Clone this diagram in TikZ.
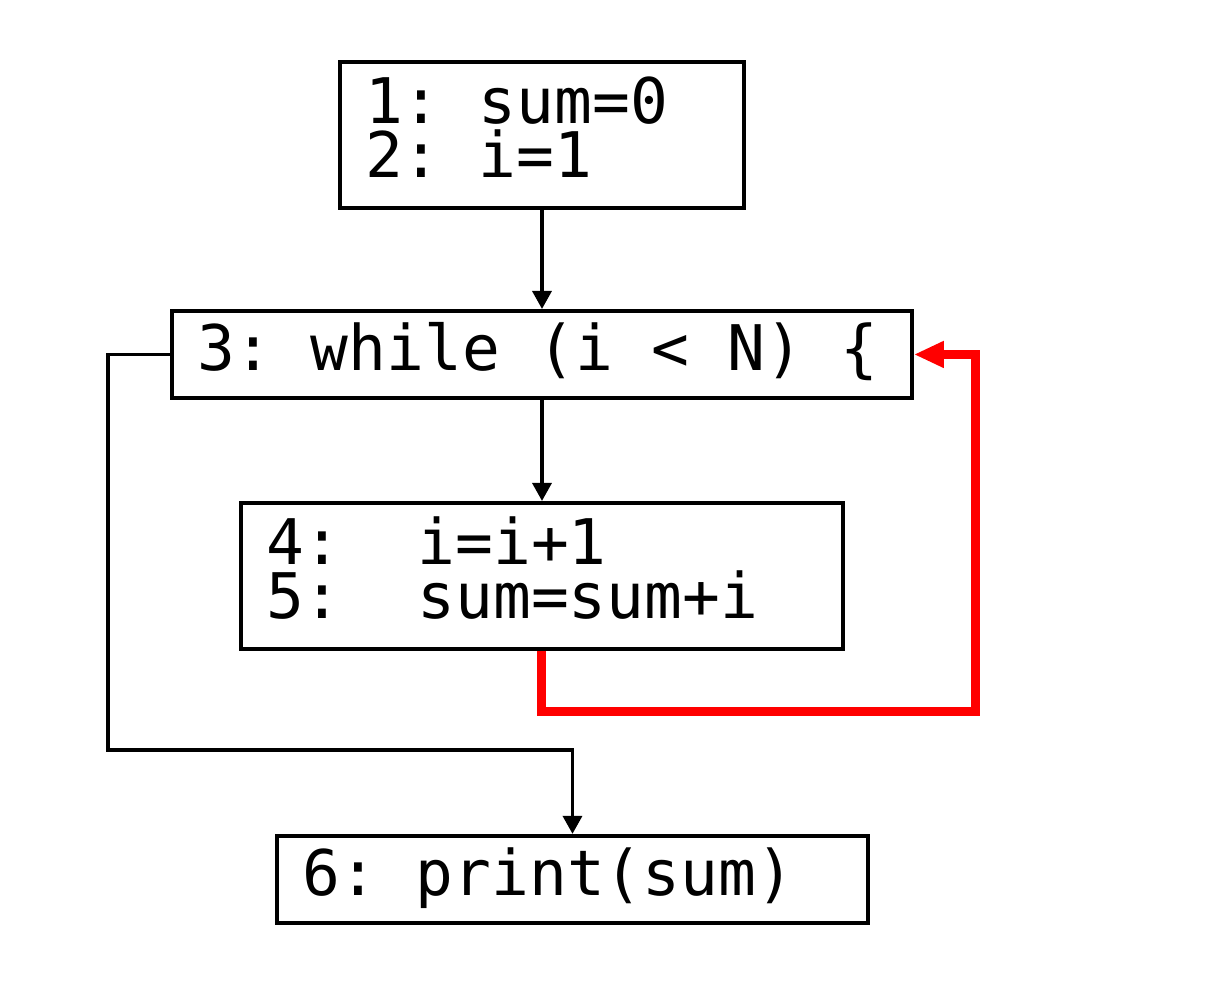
\documentclass[tikz,border=0pt]{standalone}
\usepackage{fontspec}
\setmonofont{DejaVu Sans Mono}
\usepackage{tikz}
\usetikzlibrary{arrows.meta, positioning, calc}

\begin{document}
\begin{tikzpicture}[
    x=0.02cm, y=0.02cm,
    node distance=2cm,
    stmt/.style={rectangle, draw, line width=0.08cm, inner xsep=0.5cm, align=left, font=\ttfamily\fontsize{35.8pt}{30.7pt}\selectfont, execute at begin node={\spaceskip=0pt\xspaceskip=0pt}, execute at end node=\strut},
    arr/.style={-{Triangle[length=0.36cm, width=0.38cm]}, line width=0.07cm},
    backarr/.style={-{Triangle[length=0.6cm, width=0.5cm]}, line width=0.18cm, red}
]
\useasboundingbox (-542,135) rectangle (676,-865);

% Statements
\node[stmt, minimum width=8.08cm, text width=7.08cm, minimum height=2.92cm] (init) at (0,0) {1: sum=0\\2: i=1};
\node[stmt, minimum width=14.8cm, text width=13.8cm, minimum height=1.74cm, below=1.98cm of init] (cond) {3:~while~(i~<~N)~\{};
\node[stmt, minimum width=12.04cm, text width=11.04cm, minimum height=2.92cm, below=2.02cm of cond] (body) {4:~~i=i+1\\5:~~sum=sum+i};
\node[stmt, minimum width=11.82cm, text width=10.82cm, minimum height=1.74cm, below=3.66cm of body, xshift=0.61cm] (done) {6: print(sum)};

% Exit path
\coordinate (bypass) at ($(done.north)+(0,84)$);

% Arrows
\draw[arr] (init) -- (cond);
\draw[arr] (cond) -- (body);
\draw[arr] (cond.west) -- ++(-62,0) |- (bypass) -- (done.north);
\draw[backarr] (body.south) -- ++(0,-61) -| ($(cond.east)+(62,0)$) -- (cond.east);

\end{tikzpicture}
\end{document}
